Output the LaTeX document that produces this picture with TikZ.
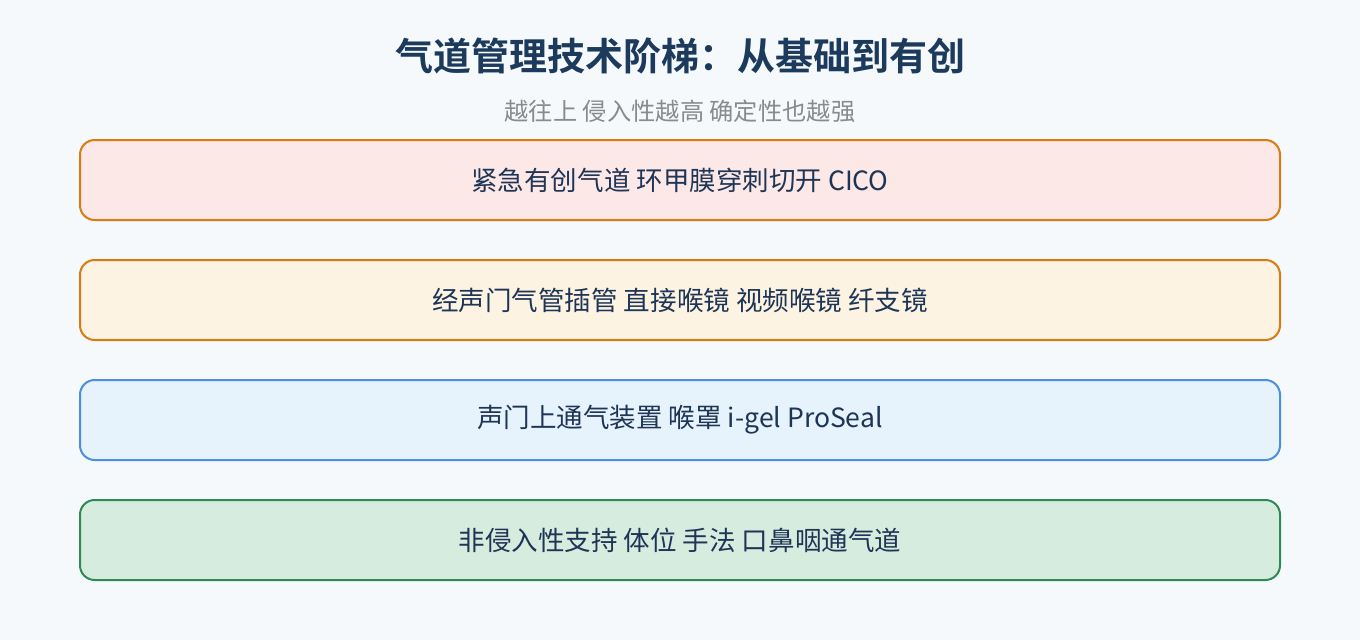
\documentclass[tikz,border=0pt]{standalone}
\usepackage{fontspec}
\setmainfont{Noto Sans CJK SC}
\newfontfamily\cjkbold{Noto Sans CJK SC Bold}
\definecolor{bgc}{HTML}{F5F9FC}
\definecolor{titlec}{HTML}{1B3A5C}
\definecolor{subc}{HTML}{8A8A8A}
\definecolor{textc}{HTML}{1E3556}
\definecolor{redfill}{HTML}{FDE8E8}
\definecolor{orangeline}{HTML}{D97A12}
\definecolor{amberfill}{HTML}{FDF3E3}
\definecolor{bluefill}{HTML}{E6F2FC}
\definecolor{blueline}{HTML}{4A90E2}
\definecolor{greenfill}{HTML}{D6ECDF}
\definecolor{greenline}{HTML}{2E8B57}
\begin{document}
\begin{tikzpicture}[x=0.75pt,y=-0.75pt,
  tier/.style={draw, line width=1.5pt, rounded corners=11pt, minimum width=900pt, minimum height=60pt, inner sep=0pt, text=textc, font=\fontsize{19.9pt}{22pt}\selectfont},
  ttl/.style={text=titlec, font=\cjkbold\fontsize{28.5pt}{32pt}\selectfont},
  sub/.style={text=subc, font=\fontsize{18.2pt}{21pt}\selectfont}]
\fill[bgc] (0,0) rectangle (1360,640);
\useasboundingbox (0,0) rectangle (1360,640);
\node[ttl] (title) at (680,56) {气道管理技术阶梯：从基础到有创};
\node[sub] (subtitle) at (680,111) {越往上 侵入性越高 确定性也越强};
\node[tier, fill=redfill, draw=orangeline] (t4) at (680,180) {紧急有创气道 环甲膜穿刺切开 CICO};
\node[tier, fill=amberfill, draw=orangeline] (t3) at (680,300) {经声门气管插管 直接喉镜 视频喉镜 纤支镜};
\node[tier, fill=bluefill, draw=blueline] (t2) at (680,420) {声门上通气装置 喉罩 i-gel ProSeal};
\node[tier, fill=greenfill, draw=greenline] (t1) at (680,540) {非侵入性支持 体位 手法 口鼻咽通气道};
\end{tikzpicture}
\end{document}
